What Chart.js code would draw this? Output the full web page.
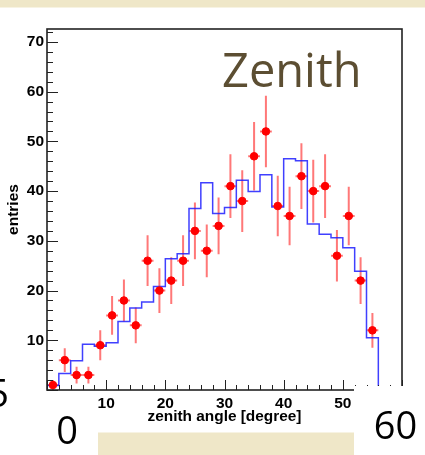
<!DOCTYPE html>
<html>
<head>
<meta charset="utf-8">
<script src="https://cdn.jsdelivr.net/npm/chart.js@4.4.1/dist/chart.umd.min.js"></script>
<style>
  body { margin: 0; background: #fff; }
  canvas { display: block; }
</style>
</head>
<body>
<canvas id="zenith-chart" width="425" height="455"></canvas>
<script>
// bin lower edges (2 degree bins)
const binStart = [0, 2, 4, 6, 8, 10, 12, 14, 16, 18, 20, 22, 24, 26, 28, 30, 32, 34, 36, 38, 40, 42, 44, 46, 48, 50, 52, 54, 56, 58, 60];
// simulated histogram (blue), last entry closes the final bin
const simValues = [0.9, 3.3, 5.9, 9.2, 8.8, 9.5, 13.8, 16.5, 17.7, 20.8, 26.4, 27.4, 36.5, 41.7, 35.5, 36.7, 42.2, 39.9, 43.3, 36.8, 46.5, 46.1, 33.4, 31.3, 30.6, 28.6, 23.9, 10.5, 0, 0, 0];
// measured points (red)
const dataCenters = [1, 3, 5, 7, 9, 11, 13, 15, 17, 19, 21, 23, 25, 27, 29, 31, 33, 35, 37, 39, 41, 43, 45, 47, 49, 51, 53, 55];
const dataCounts = [1, 6, 3, 3, 9, 15, 18, 13, 26, 20, 22, 26, 32, 28, 33, 41, 38, 47, 52, 37, 35, 43, 40, 41, 27, 35, 22, 12];
const dataErrors = [1.0, 2.4, 1.7, 1.7, 3.0, 3.9, 4.2, 3.6, 5.1, 4.5, 4.7, 5.1, 5.7, 5.3, 5.7, 6.4, 6.2, 6.9, 7.2, 6.1, 5.9, 6.6, 6.3, 6.4, 5.2, 5.9, 4.7, 3.5];
const xTicks = [10, 20, 30, 40, 50];
const yTicks = [10, 20, 30, 40, 50, 60, 70];

const PARCHMENT = '#efe7c8';
const FONT = '"Liberation Sans", Arial, sans-serif';

// error bars for the red points
const errorBars = {
    id: 'errorBars',
    beforeDatasetsDraw(chart) {
        const {ctx, scales: {x, y}} = chart;
        ctx.save();
        ctx.strokeStyle = 'rgba(255, 30, 30, 0.6)';
        ctx.lineWidth = 2;
        dataCenters.forEach((c, i) => {
            const px = x.getPixelForValue(c);
            const py = y.getPixelForValue(dataCounts[i]);
            ctx.beginPath();
            ctx.moveTo(px, y.getPixelForValue(dataCounts[i] - dataErrors[i]));
            ctx.lineTo(px, y.getPixelForValue(dataCounts[i] + dataErrors[i]));
            ctx.moveTo(x.getPixelForValue(c - 1), py);
            ctx.lineTo(x.getPixelForValue(c + 1), py);
            ctx.stroke();
        });
        ctx.restore();
    }
};

// ROOT style frame, inward ticks and the slide overlays
const frameAndOverlay = {
    id: 'frameAndOverlay',
    afterDraw(chart) {
        const {ctx, chartArea: a, scales: {x, y}} = chart;
        ctx.save();
        ctx.strokeStyle = '#222';
        ctx.lineWidth = 1;
        // y ticks (inward)
        for (let v = 0; v <= 72; v += 2) {
            const py = Math.round(y.getPixelForValue(v)) + 0.5;
            const len = v % 10 === 0 ? 11 : 6;
            ctx.beginPath();
            ctx.moveTo(a.left, py);
            ctx.lineTo(a.left + len, py);
            ctx.stroke();
        }
        // x ticks (inward)
        for (let v = 0; v <= 60; v += 2) {
            const px = Math.round(x.getPixelForValue(v)) + 0.5;
            const len = v % 10 === 0 ? 10 : 5;
            ctx.beginPath();
            ctx.moveTo(px, a.bottom);
            ctx.lineTo(px, a.bottom - len);
            ctx.stroke();
        }
        // frame
        ctx.lineWidth = 1.6;
        ctx.strokeRect(a.left, a.top, a.right - a.left, a.bottom - a.top);

        // white text box with "60"
        ctx.fillStyle = '#fff';
        ctx.fillRect(354, 386, 71, 69);
        // parchment strips
        ctx.fillStyle = PARCHMENT;
        ctx.fillRect(0, 0, 425, 7.5);
        ctx.fillRect(98, 432.5, 256, 23);

        ctx.fillStyle = '#000';
        ctx.font = '38px "Open Sans"';
        ctx.textBaseline = 'alphabetic';
        ctx.textAlign = 'center';
        ctx.fillText('0', 67, 444);
        ctx.fillText('60', 395.5, 439);
        ctx.textAlign = 'right';
        ctx.fillText('5', 9, 406.5);

        ctx.fillStyle = '#5c4e32';
        ctx.font = '47px "Open Sans"';
        ctx.textAlign = 'left';
        ctx.fillText('Zenith', 222, 87);
        ctx.restore();
    }
};

const ctx = document.getElementById('zenith-chart');

new Chart(ctx, {
    type: 'scatter',
    data: {
        datasets: [{
            label: 'data',
            data: dataCenters.map((c, i) => ({x: c, y: dataCounts[i]})),
            backgroundColor: '#ff0000',
            borderColor: '#ff0000',
            pointRadius: 3.8,
            pointHoverRadius: 3.8
        }, {
            label: 'simulation',
            type: 'line',
            data: binStart.map((b, i) => ({x: b, y: simValues[i]})),
            stepped: 'before',
            borderColor: 'rgba(30, 30, 255, 0.85)',
            borderWidth: 1.5,
            pointRadius: 0,
            fill: false
        }]
    },
    options: {
        responsive: false,
        animation: false,
        layout: {
            padding: {top: 29, right: 23, left: 0, bottom: 0}
        },
        plugins: {
            legend: {display: false},
            tooltip: {enabled: false}
        },
        scales: {
            x: {
                type: 'linear',
                min: 0,
                max: 60,
                grid: {display: false, drawTicks: false},
                border: {display: false},
                afterFit(scale) { scale.height = 65; },
                ticks: {
                    stepSize: 10,
                    includeBounds: false,
                    padding: 4,
                    color: '#000',
                    maxRotation: 0,
                    font: {family: FONT, size: 15.5, weight: 'bold'},
                    callback: (v) => xTicks.includes(v) ? v : ''
                },
                title: {
                    display: true,
                    text: 'zenith angle [degree]',
                    color: '#000',
                    padding: {top: 0, bottom: 29},
                    font: {family: FONT, size: 15.4, weight: 'bold'}
                }
            },
            y: {
                min: 0,
                max: 72.6,
                grid: {display: false, drawTicks: false},
                border: {display: false},
                afterFit(scale) { scale.width = 47; },
                ticks: {
                    stepSize: 10,
                    includeBounds: false,
                    padding: 3,
                    color: '#000',
                    font: {family: FONT, size: 15.5, weight: 'bold'},
                    callback: (v) => yTicks.includes(v) ? v : ''
                },
                title: {
                    display: true,
                    text: 'entries',
                    color: '#000',
                    padding: {top: 4, bottom: 0},
                    font: {family: FONT, size: 15.5, weight: 'bold'}
                }
            }
        }
    },
    plugins: [errorBars, frameAndOverlay]
});
</script>
</body>
</html>
